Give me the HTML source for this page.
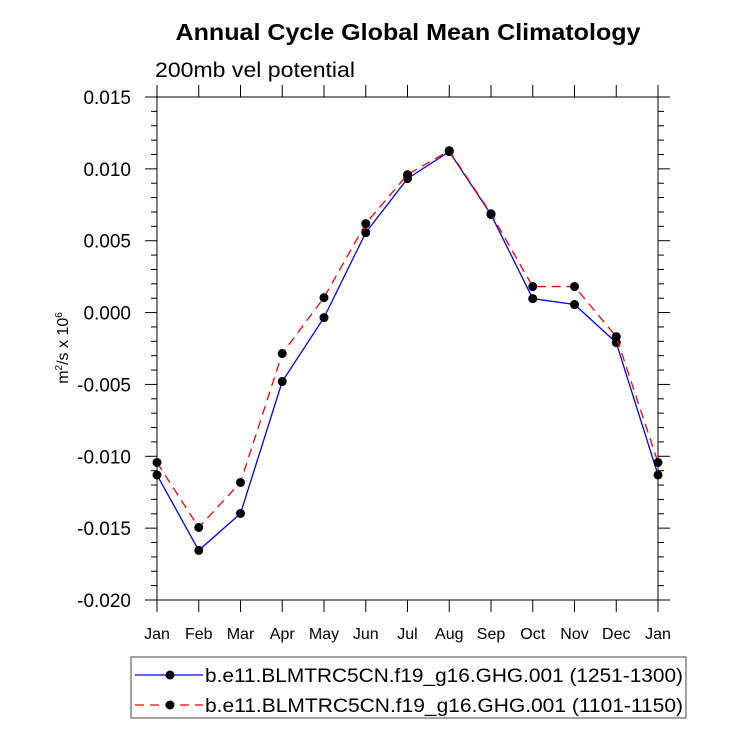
<!DOCTYPE html>
<html><head><meta charset="utf-8"><style>body{margin:0;background:#fff}svg{font-family:"Liberation Sans",sans-serif}</style></head>
<body>
<svg id="c" width="733" height="744" xmlns="http://www.w3.org/2000/svg">
<text x="408" y="40" text-anchor="middle" font-size="23" font-weight="bold" textLength="465" lengthAdjust="spacingAndGlyphs">Annual Cycle Global Mean Climatology</text>
<text x="155" y="77" font-size="21" textLength="200" lengthAdjust="spacingAndGlyphs">200mb vel potential</text>
<text transform="translate(68,348) rotate(-90)" text-anchor="middle" font-size="16">m<tspan font-size="10" dy="-6">2</tspan><tspan dy="6">/s x 10</tspan><tspan font-size="10" dy="-6">6</tspan></text>
<g id="axes"></g>
<g id="series"></g>
<g>
<rect x="131" y="657" width="555" height="61" fill="none" stroke="#444" stroke-width="1"/>
<g>
<line x1="135" y1="675" x2="203" y2="675" stroke="#0000ff" stroke-width="1.3"/><circle cx="170" cy="675" r="4.5"/>
<text x="205" y="682" font-size="19" textLength="478" lengthAdjust="spacingAndGlyphs">b.e11.BLMTRC5CN.f19_g16.GHG.001 (1251-1300)</text></g>
<g>
<line x1="135" y1="705" x2="203" y2="705" stroke="#ff0000" stroke-width="1.3" stroke-dasharray="9,6"/><circle cx="170" cy="705" r="4.5"/>
<text x="205" y="712" font-size="19" textLength="478" lengthAdjust="spacingAndGlyphs">b.e11.BLMTRC5CN.f19_g16.GHG.001 (1101-1150)</text></g>
</g>
</svg>
<script>
const months=["Jan","Feb","Mar","Apr","May","Jun","Jul","Aug","Sep","Oct","Nov","Dec","Jan"];
const yTicks=[0.015,0.010,0.005,0.000,-0.005,-0.010,-0.015,-0.020];
const yTickLabels=["0.015","0.010","0.005","0.000","-0.005","-0.010","-0.015","-0.020"];
const series1251=[-0.0113,-0.01655,-0.01398,-0.0048,-0.00035,0.00556,0.00932,0.0112,0.00682,0.00097,0.00056,-0.00209,-0.0113];
const series1101=[-0.01043,-0.01495,-0.01182,-0.00285,0.00104,0.00619,0.0096,0.01127,0.00688,0.00181,0.00181,-0.00167,-0.01043];
const L=157,R=658,T=97,B=600,ymin=-0.02,ymax=0.015;
const X=i=>L+i*(R-L)/(months.length-1);
const Y=v=>B-(v-ymin)/(ymax-ymin)*(B-T);
const NS="http://www.w3.org/2000/svg";
function mk(tag,attrs,parent){const e=document.createElementNS(NS,tag);for(const k in attrs)e.setAttribute(k,attrs[k]);parent.appendChild(e);return e;}
const ax=document.getElementById('axes');
const frame=mk('rect',{x:L,y:T,width:R-L,height:B-T,fill:'none',stroke:'#000','stroke-width':1},ax);


yTicks.forEach((v,i)=>{const y=Y(v);
mk('line',{x1:L-12,y1:y,x2:L,y2:y,stroke:'#000'},ax);
mk('line',{x1:R,y1:y,x2:R+12,y2:y,stroke:'#000'},ax);
const t=mk('text',{x:L-26,y:y+7,'text-anchor':'end','font-size':19},ax);t.textContent=yTickLabels[i];


if(i<yTicks.length-1){for(let k=1;k<5;k++){const ym=Y(v-k*0.001);
mk('line',{x1:L-6,y1:ym,x2:L,y2:ym,stroke:'#000'},ax);mk('line',{x1:R,y1:ym,x2:R+6,y2:ym,stroke:'#000'},ax);}}
});
months.forEach((m,i)=>{const x=X(i);
mk('line',{x1:x,y1:B,x2:x,y2:B+12,stroke:'#000'},ax);
mk('line',{x1:x,y1:T-12,x2:x,y2:T,stroke:'#000'},ax);
const t=mk('text',{x:x,y:B+39,'text-anchor':'middle','font-size':16},ax);t.textContent=m;


});
const sg=document.getElementById('series');
function draw(vals,color,dash,name){
const g=mk('g',{},sg);


const p=mk('polyline',{points:vals.map((v,i)=>X(i)+','+Y(v)).join(' '),fill:'none',stroke:color,'stroke-width':1.3},g);
if(dash)p.setAttribute('stroke-dasharray',dash);
vals.forEach((v,i)=>{const c=mk('circle',{cx:X(i),cy:Y(v),r:4.5,fill:'#000'},g);

});
}
draw(series1251,'#0000ff',null,'series-1251-1300');
draw(series1101,'#ff0000','9,6','series-1101-1150');
</script>
</body></html>
